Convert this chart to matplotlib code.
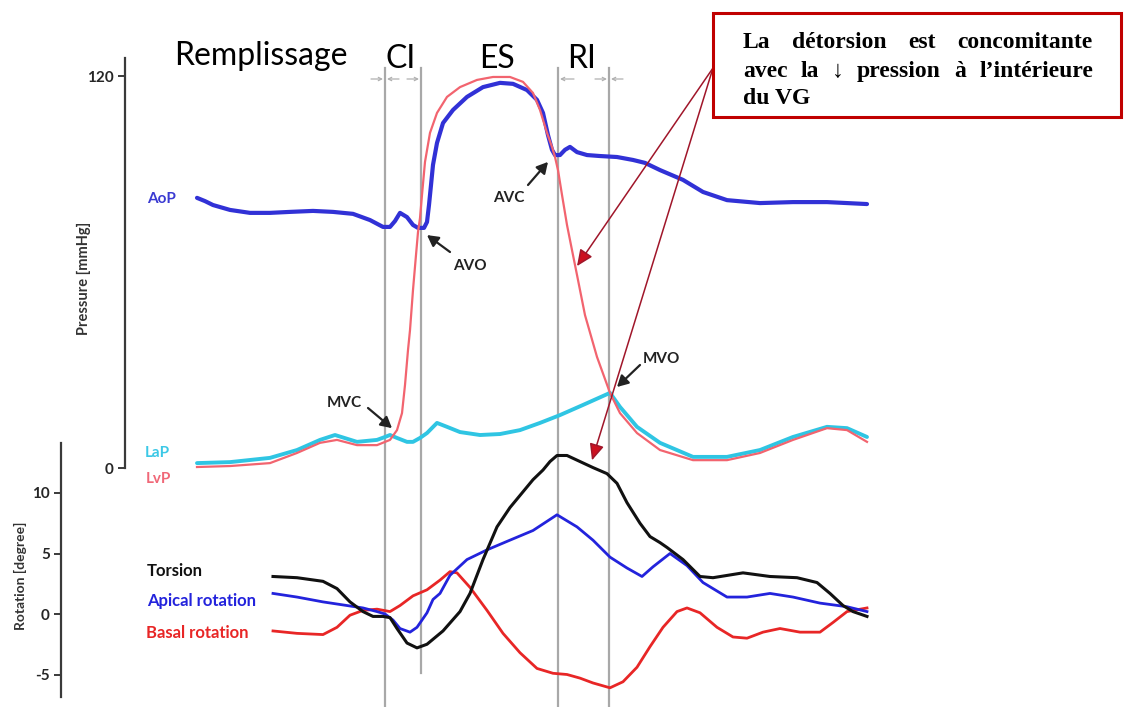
import matplotlib
matplotlib.use("Agg")
import matplotlib.pyplot as plt
from matplotlib.patches import Rectangle

W, H, DPI = 1124, 707, 100

# ---------------- data (time in arbitrary units across one cardiac cycle) ----------------
t_aop = [197, 205, 213, 230, 250, 270, 290, 313, 333, 353, 370, 383, 390, 395, 400, 407, 413, 418, 424, 427,
         429, 431, 433, 437, 443, 453, 467, 483, 500, 513, 527, 537, 543, 548, 552, 555, 560, 565, 570, 577,
         587, 600, 617, 633, 645, 660, 683, 703, 727, 760, 793, 827, 867]
aop = [82.7, 81.7, 80.5, 79.0, 78.1, 78.1, 78.4, 78.7, 78.4, 77.8, 75.9, 73.8, 73.8, 75.6, 78.1, 76.8, 74.4, 73.5, 73.5, 75.3,
       80.5, 86.6, 92.8, 99.5, 105.6, 109.6, 113.6, 116.6, 117.9, 117.6, 115.7, 112.7, 108.7, 101.9, 97.4, 95.8, 95.8, 97.4, 98.3, 96.7,
       95.8, 95.5, 95.2, 94.3, 93.4, 91.2, 88.2, 84.5, 82.0, 81.1, 81.4, 81.4, 80.8]

t_lvp = [197, 230, 270, 297, 320, 337, 357, 377, 390, 397, 402, 405, 408, 410, 413, 416, 418, 420, 422, 425,
         430, 437, 447, 460, 477, 493, 510, 523, 533, 540, 547, 552, 555, 558, 562, 567, 572, 577, 585, 597,
         610, 620, 637, 660, 693, 727, 760, 793, 827, 847, 867]
lvp = [0.3, 0.6, 1.5, 4.6, 7.7, 8.6, 7.0, 7.0, 8.6, 11.6, 16.8, 25.4, 36.1, 42.2, 54.5, 65.2, 72.2, 76.5, 83.6, 93.7,
       102.6, 108.7, 113.6, 116.6, 118.8, 119.7, 119.7, 118.2, 114.8, 109.6, 102.6, 98.3, 95.2, 91.2, 83.6, 74.4, 66.7, 59.1, 46.8, 34.0,
       23.0, 16.8, 10.7, 5.5, 2.4, 2.4, 4.6, 8.6, 12.2, 11.6, 8.0]

t_lap = [197, 230, 270, 297, 320, 335, 357, 377, 385, 390, 397, 407, 413, 420, 427, 437, 447, 460, 480, 500,
         520, 540, 560, 583, 610, 620, 637, 660, 693, 727, 760, 793, 827, 847, 867]
lap = [1.5, 1.8, 3.1, 5.5, 8.6, 10.1, 8.0, 8.6, 9.5, 10.1, 9.2, 8.0, 8.0, 9.2, 10.7, 13.8, 12.6, 11.0, 10.1, 10.4,
       11.6, 13.8, 16.2, 19.3, 23.0, 18.7, 12.6, 7.7, 3.4, 3.4, 5.5, 9.5, 12.6, 12.2, 9.5]

t_tor = [273, 297, 323, 337, 350, 363, 373, 383, 390, 397, 407, 417, 427, 443, 460, 470, 483, 497, 510, 527,
         533, 543, 550, 557, 567, 580, 593, 607, 617, 627, 640, 650, 660, 667, 683, 700, 713, 743, 770, 797,
         817, 830, 843, 853, 867]
torsion = [3.1, 3.0, 2.7, 2.1, 1.0, 0.2, -0.2, -0.2, -0.3, -1.2, -2.4, -2.8, -2.5, -1.4, 0.2, 1.7, 4.5, 7.2, 8.8, 10.5,
           11.1, 11.9, 12.6, 13.1, 13.1, 12.6, 12.1, 11.6, 10.8, 9.2, 7.5, 6.4, 5.9, 5.5, 4.5, 3.1, 3.0, 3.4, 3.1, 3.0,
           2.6, 1.7, 0.7, 0.2, -0.2]

t_api = [273, 297, 323, 347, 363, 377, 385, 393, 400, 410, 417, 427, 433, 440, 450, 467, 487, 507, 533, 557,
         577, 593, 610, 627, 642, 653, 670, 687, 703, 727, 747, 770, 793, 820, 847, 867]
apical = [1.7, 1.4, 1.0, 0.7, 0.5, 0.2, 0.0, -0.5, -1.2, -1.5, -1.1, 0.1, 1.2, 1.7, 3.2, 4.5, 5.3, 6.0, 6.9, 8.2,
          7.2, 6.1, 4.7, 3.8, 3.1, 3.9, 5.0, 4.0, 2.6, 1.4, 1.4, 1.7, 1.4, 0.9, 0.6, 0.2]

t_bas = [273, 297, 323, 337, 350, 363, 377, 390, 400, 413, 427, 440, 450, 457, 470, 487, 503, 520, 537, 553,
         567, 580, 593, 610, 623, 637, 650, 663, 677, 687, 700, 717, 733, 747, 763, 780, 800, 820, 833, 847, 867]
basal = [-1.4, -1.6, -1.7, -1.1, -0.1, 0.3, 0.4, 0.2, 0.7, 1.5, 2.0, 2.8, 3.5, 3.4, 2.2, 0.3, -1.6, -3.2, -4.5, -4.9,
         -5.0, -5.3, -5.7, -6.1, -5.6, -4.4, -2.7, -1.1, 0.2, 0.5, 0.1, -1.1, -1.9, -2.0, -1.5, -1.2, -1.5, -1.5, -0.7, 0.2, 0.5]

events = [385, 421, 558, 609]          # MVC, AVO, AVC, MVO
phases = ["Remplissage", "CI", "ES", "RI"]
p_ticks = [0, 120]
p_ticklabels = ["0", "120"]
r_ticks = [-5, 0, 5, 10]
r_ticklabels = ["-5", "0", "5", "10"]

box_lines = [["La", "détorsion", "est", "concomitante"],
             ["avec", "la", "↓", "pression", "à", "l’intérieure"],
             ["du", "VG"]]

# ---------------- figure ----------------
fig = plt.figure(figsize=(W / DPI, H / DPI), dpi=DPI)
fig.patch.set_facecolor("white")
SANS = ["Lato", "DejaVu Sans"]
SERIF = ["Liberation Serif", "DejaVu Serif"]


def fx(x, y):
    """figure-pixel position (from top-left) -> figure fraction"""
    return x / W, 1 - y / H


def lim_from_rows(row0, v0, row1, v1):
    k = (v1 - v0) / (row1 - row0)
    return v0 + k * (H - row0), v0 + k * (0 - row0)


ax_p = fig.add_axes([0, 0, 1, 1])
ax_r = fig.add_axes([0, 0, 1, 1])
for ax in (ax_p, ax_r):
    ax.set_facecolor("none")
    ax.set_xlim(0, W)
    ax.set_xticks([])
    for s in ("top", "right", "bottom"):
        ax.spines[s].set_visible(False)
    ax.spines["left"].set_color("#3a3a3a")
    ax.spines["left"].set_linewidth(1.6)
    ax.tick_params(axis="y", direction="out", length=5, width=1.4, color="#3a3a3a",
                   labelcolor="#262626", pad=3)

ax_p.set_ylim(*lim_from_rows(468, 0, 76, 120))
ax_r.set_ylim(*lim_from_rows(614, 0, 493, 10))

ax_p.spines["left"].set_position(("data", 125))
ax_p.spines["left"].set_bounds(0, 125.5)
ax_p.set_yticks(p_ticks, labels=p_ticklabels, fontsize=11, fontweight="bold", family=SANS)
ax_r.spines["left"].set_position(("data", 61))
ax_r.spines["left"].set_bounds(-6.9, 14.1)
ax_r.set_yticks(r_ticks, labels=r_ticklabels, fontsize=11, fontweight="bold", family=SANS)

# event lines
line_top = 1 - 68 / H
for i, ev in enumerate(events):
    bottom = 1 - 673 / H if i == 1 else 0
    ax_p.axvline(ev, ymin=bottom, ymax=line_top, color="#a8a8a8", lw=1.6, zorder=1)

# small gray interval arrows at the top
for tail, head in [(371, 383), (399, 387), (407, 419), (574, 560), (595, 607), (623, 611)]:
    ax_p.annotate("", xy=(head, H - 79), xycoords="figure pixels",
                  xytext=(tail, H - 79), textcoords="figure pixels",
                  arrowprops=dict(arrowstyle="->", color="#b0b0b0", lw=0.9,
                                  mutation_scale=6, shrinkA=0, shrinkB=0))

# pressure curves
ax_p.plot(t_aop, aop, color="#3131d6", lw=3.0, solid_joinstyle="round", solid_capstyle="round", zorder=3)
ax_p.plot(t_lvp, lvp, color="#f2646f", lw=1.6, solid_joinstyle="round", zorder=4)
ax_p.plot(t_lap, lap, color="#2fc5e3", lw=2.8, solid_joinstyle="round", solid_capstyle="round", zorder=3.5)

# rotation curves
ax_r.plot(t_bas, basal, color="#e82626", lw=2.0, solid_joinstyle="round", zorder=3)
ax_r.plot(t_api, apical, color="#2323dc", lw=2.0, solid_joinstyle="round", zorder=3)
ax_r.plot(t_tor, torsion, color="#111111", lw=2.2, solid_joinstyle="round", zorder=3)

# phase headers
for name, (xc, yb) in zip(phases, [(261, 65), (401, 68), (497, 68), (582, 68)]):
    fig.text(*fx(xc, yb), name, ha="center", va="baseline", fontsize=23, family=SANS, color="black")

# curve labels
lab_kw = dict(ha="left", va="baseline", fontweight="bold", family=SANS)
fig.text(*fx(147, 203), "AoP", color="#3a3ad2", fontsize=11, **lab_kw)
fig.text(*fx(145, 457), "LaP", color="#3cc8e6", fontsize=11, **lab_kw)
fig.text(*fx(146, 483), "LvP", color="#f06878", fontsize=11, **lab_kw)
fig.text(*fx(453, 270), "AVO", color="#222222", fontsize=11, **lab_kw)
fig.text(*fx(493, 202), "AVC", color="#222222", fontsize=11, **lab_kw)
fig.text(*fx(327, 407), "MVC", color="#222222", fontsize=11, **lab_kw)
fig.text(*fx(643, 363), "MVO", color="#222222", fontsize=11, **lab_kw)
fig.text(*fx(147, 576), "Torsion", color="#111111", fontsize=12, **lab_kw)
fig.text(*fx(147, 606), "Apical rotation", color="#2323dc", fontsize=12, **lab_kw)
fig.text(*fx(146, 638), "Basal rotation", color="#e82626", fontsize=12, **lab_kw)

fig.text(*fx(84, 278), "Pressure [mmHg]", rotation=90, ha="center", va="center",
         fontsize=10.5, fontweight="bold", family=SANS, color="#333333")
fig.text(*fx(20, 576), "Rotation [degree]", rotation=90, ha="center", va="center",
         fontsize=10, fontweight="bold", family=SANS, color="#333333")

# event arrows (black)
blk = dict(arrowstyle="-|>,head_length=0.55,head_width=0.3", color="#222222", lw=1.6,
           mutation_scale=12, shrinkA=0, shrinkB=0)
ax_p.annotate("", xy=(427, 71.3), xytext=(450, H - 252), textcoords="figure pixels", arrowprops=blk)
ax_p.annotate("", xy=(548, 93.7), xytext=(528, H - 185), textcoords="figure pixels", arrowprops=blk)
ax_p.annotate("", xy=(392, 12.2), xytext=(368, H - 408), textcoords="figure pixels", arrowprops=blk)
ax_p.annotate("", xy=(617, 24.8), xytext=(640, H - 365), textcoords="figure pixels", arrowprops=blk)

# annotation box
fig.add_artist(Rectangle(fx(713, 117), (1121 - 713) / W, (117 - 13) / H, transform=fig.transFigure,
                         facecolor="white", edgecolor="#c00000", lw=2.2, zorder=5))
renderer = fig.canvas.get_renderer()
box_kw = dict(fontsize=17, fontweight="bold", family=SERIF, color="black", ha="left", va="baseline", zorder=6)
x_left, x_right = 743, 1093
for words, yb, justify in zip(box_lines, [48, 77, 104], [True, True, False]):
    if not justify:
        fig.text(*fx(x_left, yb), " ".join(words), **box_kw)
        continue
    texts = [fig.text(0, 0, w, **box_kw) for w in words]
    widths = [t.get_window_extent(renderer).width for t in texts]
    gap = (x_right - x_left - sum(widths)) / (len(words) - 1)
    x = x_left
    for t, w in zip(texts, widths):
        t.set_position(fx(x, yb))
        x += w + gap

# red arrows from the box
red = dict(arrowstyle="-|>,head_length=0.9,head_width=0.4", color="#a0162a", lw=1.1,
           mutation_scale=11, shrinkA=0, shrinkB=0)
a1 = ax_p.annotate("", xy=(577, 61.8), xytext=(713, H - 68), textcoords="figure pixels", arrowprops=red)
a2 = ax_r.annotate("", xy=(592, 12.7), xytext=(713, H - 68), textcoords="figure pixels", arrowprops=red)
for a in (a1, a2):
    a.arrow_patch.set_facecolor("#cc1020")

fig.savefig("out.png", dpi=DPI, facecolor="white")
